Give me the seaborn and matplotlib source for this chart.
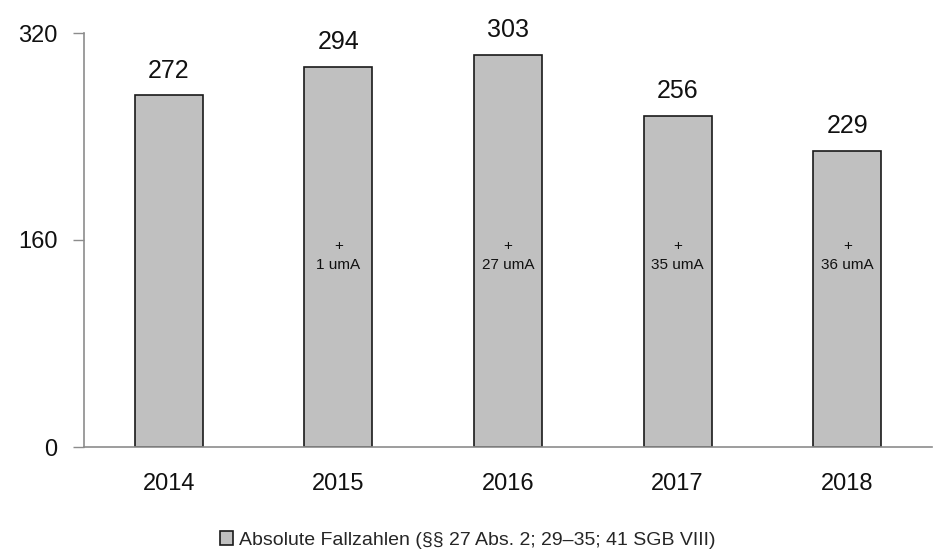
import numpy as np
import pandas as pd
import seaborn as sns
import matplotlib.pyplot as plt
from matplotlib.ticker import FixedLocator

# data
years = ['2014', '2015', '2016', '2017', '2018']
cases = [272, 294, 303, 256, 229]
uma = [None, 1, 27, 35, 36]
series_label = 'Absolute Fallzahlen (§§ 27 Abs. 2; 29–35; 41 SGB VIII)'

sns.set_style('white')
plt.rcParams['font.family'] = ['Liberation Sans', 'DejaVu Sans']

df = pd.DataFrame({'Jahr': years, 'Fälle': cases, 'Reihe': series_label})

fig = plt.figure(figsize=(9.35, 5.55), dpi=100)
ax = fig.add_axes([84 / 935, 1 - 447 / 555, 848 / 935, 414 / 555])

grey_axis = '#8c8c8c'
sns.barplot(data=df, x='Jahr', y='Fälle', hue='Reihe', palette=['#c0c0c0'],
            width=0.4, edgecolor='#1a1a1a', linewidth=1.2, ax=ax)

ax.bar_label(ax.containers[0], fmt='%d', padding=9, fontsize=18, color='#111111')

for i, u in enumerate(uma):
    if u is None:
        continue
    ax.text(i, 148, f'+\n{u} umA', ha='center', va='center', fontsize=11,
            linespacing=1.5, color='#111111')

ax.set_xlim(-0.5, len(years) - 0.5)
ax.set_ylim(0, 320)
ax.set_yticks([0, 160, 320])
ax.set_xlabel('')
ax.set_ylabel('')

ax.xaxis.set_minor_locator(FixedLocator(np.arange(-0.5, len(years), 1.0)))
ax.tick_params(axis='x', which='major', length=0, pad=19, labelsize=17, labelcolor='#111111')
ax.tick_params(axis='x', which='minor', length=8, width=1, color=grey_axis, direction='out')
ax.tick_params(axis='y', which='major', length=8, width=1, color=grey_axis, direction='out',
               left=True, pad=11, labelsize=17, labelcolor='#111111')

for side in ['top', 'right']:
    ax.spines[side].set_visible(False)
for side in ['left', 'bottom']:
    ax.spines[side].set_color(grey_axis)
    ax.spines[side].set_linewidth(1.2)

sns.move_legend(ax, 'center', bbox_to_anchor=(0.5, 0.027), bbox_transform=fig.transFigure,
                frameon=False, title=None, fontsize=14, handlelength=0.7, handleheight=0.7,
                handletextpad=0.3)

fig.savefig('out.png', dpi=100)
